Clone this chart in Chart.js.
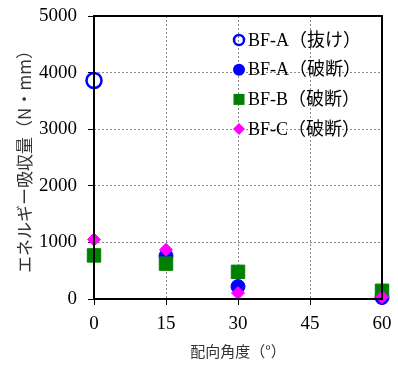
<!DOCTYPE html>
<html>
<head>
<meta charset="utf-8">
<script src="https://cdn.jsdelivr.net/npm/chart.js@4.4.0/dist/chart.umd.min.js"></script>
<style>
html,body{margin:0;padding:0;background:#fff;}
#wrap{width:398px;height:365px;position:relative;}
</style>
</head>
<body>
<div id="wrap"><canvas id="c" width="398" height="365"></canvas></div>
<script>
// ---- data ----
const seriesNames = ['BF-A（抜け）', 'BF-A（破断）', 'BF-B（破断）', 'BF-C（破断）'];
const angleA_pull = [0];
const energyA_pull = [3860];
const angles = [0, 15, 30, 60];
const anglesA_break = [15, 30, 60];
const energyA_break = [760, 220, 25];
const energyB_break = [770, 625, 480, 145];
const energyC_break = [1050, 870, 105, 35];
const xTicks = [0, 15, 30, 45, 60];
const yTicks = [0, 1000, 2000, 3000, 4000, 5000];
const xTitle = '配向角度（°）';
const yTitle = 'エネルギー吸収量（N・mm）';

const toPts = (xs, ys) => xs.map((x, i) => ({x: x, y: ys[i]}));

const serif = "'Liberation Serif', 'Noto Sans CJK JP', serif";
const cjk = "'Noto Sans CJK JP', sans-serif";

const datasets = [
  {label: seriesNames[0], data: toPts(angleA_pull, energyA_pull), pointStyle: 'circle', pointRadius: 7.5,
   backgroundColor: 'rgba(0,0,0,0)', borderColor: '#0000ff', pointBorderWidth: 2.5, order: 4, clip: false},
  {label: seriesNames[1], data: toPts(anglesA_break, energyA_break), pointStyle: 'circle', pointRadius: 7,
   backgroundColor: '#0000ff', borderColor: '#0000ff', pointBorderWidth: 1, order: 3, clip: false},
  {label: seriesNames[2], data: toPts(angles, energyB_break), pointStyle: 'rect', pointRadius: 9.5,
   backgroundColor: '#008000', borderColor: '#008000', pointBorderWidth: 1, order: 2, clip: false},
  {label: seriesNames[3], data: toPts(angles, energyC_break), pointStyle: 'rectRot', pointRadius: 6.5,
   backgroundColor: '#ff00ff', borderColor: '#ff00ff', pointBorderWidth: 1, order: 1, clip: false}
];

const frame = {
  id: 'frame',
  afterDraw(chart) {
    const {ctx, chartArea: a} = chart;
    ctx.save();
    ctx.strokeStyle = '#000';
    ctx.lineWidth = 2;
    ctx.strokeRect(a.left, a.top, a.right - a.left, a.bottom - a.top);
    ctx.restore();
  }
};

const legendIn = {
  id: 'legendIn',
  afterDraw(chart) {
    const {ctx, chartArea: a} = chart;
    const mx = a.left + 145, tx = a.left + 154;
    const y0 = a.top + 24, dy = 29.7;
    ctx.save();
    ctx.font = '18px ' + serif;
    ctx.textBaseline = 'middle';
    ctx.fillStyle = '#000';
    chart.data.datasets.forEach((ds, i) => {
      const y = y0 + i * dy;
      ctx.save();
      ctx.fillStyle = ds.backgroundColor;
      ctx.strokeStyle = ds.borderColor;
      if (i === 0) {
        ctx.lineWidth = 2.5;
        ctx.beginPath(); ctx.arc(mx, y, 5, 0, Math.PI * 2); ctx.stroke();
      } else if (i === 1) {
        ctx.beginPath(); ctx.arc(mx, y, 6, 0, Math.PI * 2); ctx.fill();
      } else if (i === 2) {
        ctx.fillRect(mx - 5.5, y - 5.5, 11, 11);
      } else {
        ctx.beginPath();
        ctx.moveTo(mx, y - 6); ctx.lineTo(mx + 6, y); ctx.lineTo(mx, y + 6); ctx.lineTo(mx - 6, y);
        ctx.closePath(); ctx.fill();
      }
      ctx.restore();
      ctx.fillText(ds.label, tx, y + 1);
    });
    ctx.restore();
  }
};

const gridOpts = {color: '#888', lineWidth: 1, tickLength: 6, tickColor: '#000', tickBorderDash: [], tickWidth: 1};

new Chart(document.getElementById('c'), {
  type: 'scatter',
  data: {datasets: datasets},
  options: {
    responsive: false,
    animation: false,
    devicePixelRatio: 1,
    layout: {padding: {left: 0, top: 16, right: 16, bottom: 0}},
    plugins: {legend: {display: false}, tooltip: {enabled: false}},
    scales: {
      x: {
        type: 'linear', min: 0, max: 60,
        afterBuildTicks: s => { s.ticks = xTicks.map(v => ({value: v})); },
        afterFit: s => { s.height = 66; s.paddingLeft = 0; s.paddingRight = 0; },
        ticks: {font: {family: serif, size: 19}, color: '#000', padding: 8, maxRotation: 0, callback: v => String(v)},
        grid: gridOpts,
        border: {display: false, dash: [2, 2]},
        title: {display: true, text: xTitle, font: {family: cjk, size: 15}, color: '#333', padding: {top: 0, bottom: 5}}
      },
      y: {
        type: 'linear', min: 0, max: 5000,
        afterBuildTicks: s => { s.ticks = yTicks.map(v => ({value: v})); },
        afterFit: s => { s.width = 94; s.paddingTop = 0; s.paddingBottom = 0; },
        ticks: {font: {family: serif, size: 19}, color: '#000', padding: 11, callback: v => String(v)},
        grid: gridOpts,
        border: {display: false, dash: [2, 2]},
        title: {display: true, text: yTitle, font: {family: cjk, size: 17}, color: '#333', padding: {top: 14, bottom: 0}}
      }
    }
  },
  plugins: [frame, legendIn]
});
</script>
</body>
</html>
